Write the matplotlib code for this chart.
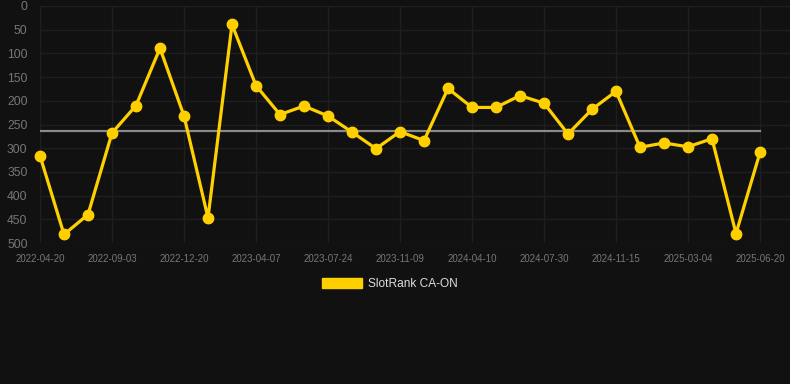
import numpy as np
import matplotlib
matplotlib.use("Agg")
import matplotlib.pyplot as plt
from matplotlib.patches import Patch

# rank per snapshot (lower = better)
ranks = [316, 482, 440, 268, 210, 89, 232, 447, 39, 168,
         229, 211, 232, 266, 301, 265, 284, 174, 214, 214,
         189, 205, 270, 218, 180, 298, 289, 297, 280, 480,
         309]
avg_rank = 263
# only every third snapshot carries a date label
date_labels = ["2022-04-20", "2022-09-03", "2022-12-20", "2023-04-07",
               "2023-07-24", "2023-11-09", "2024-04-10", "2024-07-30",
               "2024-11-15", "2025-03-04", "2025-06-20"]
y_ticks = [0, 50, 100, 150, 200, 250, 300, 350, 400, 450, 500]

bg = "#111111"
gold = "#ffd000"
grid_c = "#1f1f1f"
tick_c = "#777777"

plt.rcParams['font.family'] = ['Liberation Sans', 'DejaVu Sans']

W, H = 790, 384
fig = plt.figure(figsize=(W / 100, H / 100), dpi=100, facecolor=bg)
ax = fig.add_axes([40 / W, 1 - 243 / H, 750 / W, 237 / H], facecolor=bg)

x = np.arange(len(ranks))
ax.plot(x, ranks, color=gold, lw=2.3, marker="o", ms=7.5, zorder=3, clip_on=False)
ax.plot([x[0], x[-1]], [avg_rank, avg_rank], color="#8a8a8a", lw=1.6, zorder=2)

ax.set_xlim(0, 750 / 24)
ax.set_ylim(500, 0)
ax.set_yticks(y_ticks)
ax.set_yticklabels([str(v) for v in y_ticks], fontsize=8.7, color=tick_c)
ax.set_xticks(x[::3])
ax.set_xticklabels(date_labels, fontsize=7, color=tick_c)
ax.tick_params(axis="y", length=0, pad=9)
ax.tick_params(axis="x", length=0, pad=8)
ax.grid(True, color=grid_c, lw=1)
for s in ax.spines.values():
    s.set_visible(False)

fig.legend(handles=[Patch(color=gold, label="SlotRank CA-ON")],
           loc="center", bbox_to_anchor=(390 / W, 1 - 284 / H),
           frameon=False, fontsize=8.6, labelcolor="#dddddd",
           handlelength=3.4, handleheight=1.0, handletextpad=0.5)

fig.savefig("out.png", dpi=100, facecolor=bg)
